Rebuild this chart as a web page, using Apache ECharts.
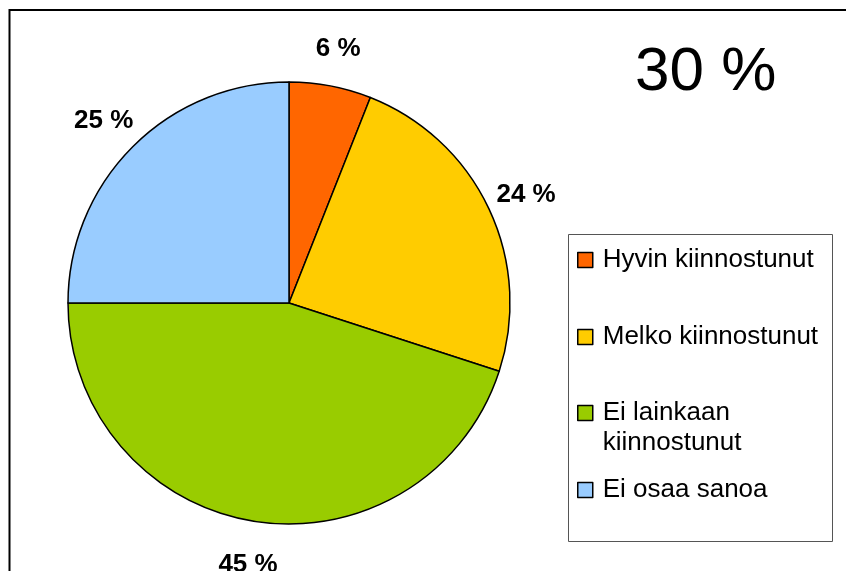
<!DOCTYPE html>
<html>
<head>
<meta charset="utf-8">
<script src="https://cdn.jsdelivr.net/npm/echarts@6/dist/echarts.min.js"></script>
<style>
  html, body { margin: 0; padding: 0; background: #fff; }
  #chart { width: 846px; height: 571px; }
</style>
</head>
<body>
<div id="chart"></div>
<script>
var categories = ['Hyvin kiinnostunut', 'Melko kiinnostunut', 'Ei lainkaan kiinnostunut', 'Ei osaa sanoa'];
var values = [6, 24, 45, 25];
var colors = ['#FF6600', '#FFCC00', '#99CC00', '#99CCFF'];
var titleText = '30 %';
var legendTexts = ['Hyvin kiinnostunut', 'Melko kiinnostunut', '\nEi lainkaan\nkiinnostunut', 'Ei osaa sanoa'];

var FONT = '"Liberation Sans", Arial, sans-serif';
var chart = echarts.init(document.getElementById('chart'), null, { renderer: 'canvas' });

var pieData = categories.map(function (c, i) {
  return { name: c, value: values[i], itemStyle: { color: colors[i] } };
});

var legendTops = [243, 320, 366, 473];
var legends = categories.map(function (c, i) {
  return {
    orient: 'vertical',
    left: 577,
    top: legendTops[i],
    padding: 0,
    icon: 'rect',
    itemWidth: 15,
    itemHeight: 15,
    selectedMode: false,
    data: [c],
    formatter: function () { return legendTexts[i]; },
    itemStyle: { borderColor: '#000', borderWidth: 1.5 },
    textStyle: {
      fontFamily: FONT,
      fontSize: 26,
      lineHeight: 30,
      color: '#000',
      padding: [0, 0, 4, 5]
    }
  };
});

var option = {
  backgroundColor: '#fff',
  animation: false,
  title: {
    text: titleText,
    left: 635,
    top: 42,
    padding: 0,
    textStyle: { fontFamily: FONT, fontSize: 62, fontWeight: 'normal', color: '#000', lineHeight: 62 }
  },
  legend: legends,
  graphic: [
    {
      type: 'rect',
      shape: { x: 9.5, y: 10, width: 900, height: 700 },
      style: { fill: 'none', stroke: '#000', lineWidth: 2 },
      silent: true
    },
    {
      type: 'rect',
      shape: { x: 568.5, y: 234.5, width: 264, height: 307 },
      style: { fill: 'none', stroke: '#555', lineWidth: 1 },
      silent: true
    }
  ],
  series: [
    {
      type: 'pie',
      center: [289, 303],
      radius: [0, 221],
      startAngle: 90,
      clockwise: true,
      label: { show: false },
      labelLine: { show: false },
      itemStyle: { borderColor: '#000', borderWidth: 1.5 },
      emphasis: { disabled: true },
      data: pieData
    },
    {
      type: 'pie',
      center: [289, 303],
      radius: [250, 268],
      startAngle: 90,
      clockwise: true,
      silent: true,
      legendHoverLink: false,
      itemStyle: { color: 'rgba(0,0,0,0)', borderWidth: 0 },
      label: {
        show: true,
        position: 'inside',
        formatter: '{c} %',
        fontFamily: FONT,
        fontSize: 26,
        fontWeight: 'bold',
        color: '#000',
        offset: [0, 3]
      },
      labelLine: { show: false },
      emphasis: { disabled: true },
      data: values.map(function (v, i) { return { name: categories[i], value: v }; })
    }
  ]
};
chart.setOption(option);
</script>
</body>
</html>
